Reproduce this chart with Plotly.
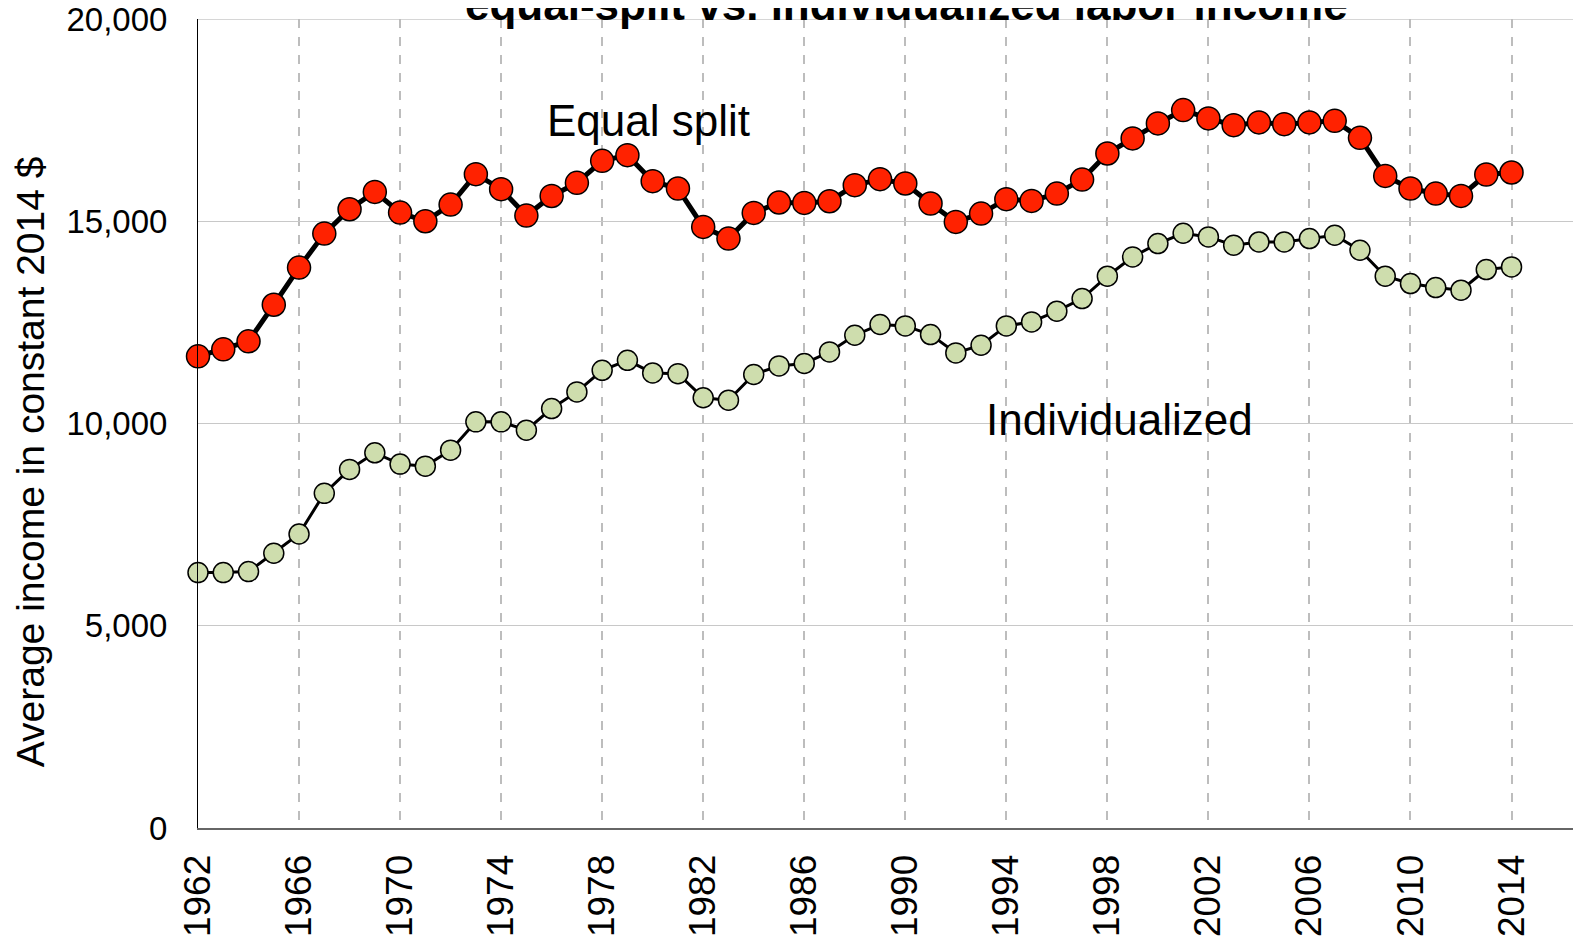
import plotly.graph_objects as go

years = list(range(1962, 2015))

equal_split = [
    11660, 11834, 12031, 12936, 13854, 14695, 15297, 15725, 15215, 15000,
    15413, 16163, 15792, 15140, 15625, 15949, 16493, 16634, 15990, 15809,
    14859, 14572, 15205, 15463, 15453, 15495, 15891, 16040, 15933, 15438,
    14983, 15190, 15545, 15503, 15685, 16030, 16675, 17047, 17418, 17748,
    17542, 17376, 17443, 17401, 17443, 17483, 17062, 16121, 15809, 15685,
    15627, 16155, 16205,
]

individualized = [
    6314, 6314, 6339, 6792, 7268, 8273, 8865, 9275, 8996, 8946,
    9341, 10041, 10041, 9835, 10370, 10781, 11315, 11562, 11250, 11233,
    10636, 10576, 11211, 11424, 11483, 11770, 12182, 12447, 12413, 12199,
    11745, 11935, 12413, 12512, 12776, 13089, 13641, 14119, 14449, 14703,
    14613, 14407, 14489, 14489, 14572, 14654, 14283, 13641, 13460, 13361,
    13295, 13806, 13872,
]

tick_years = list(range(1962, 2015, 4))
y_ticks = [0, 5000, 10000, 15000, 20000]
title_text = "equal-split vs. individualized labor income"
y_title = "Average income in constant 2014 $"
label_equal = "Equal split"
label_indiv = "Individualized"

FONT = "Liberation Sans, Arial, sans-serif"
GRID_H = "#C8C8C8"

fig = go.Figure()
fig.add_trace(go.Scatter(
    x=years, y=individualized, mode="lines+markers",
    line=dict(color="black", width=3),
    marker=dict(size=20, color="#CEDDAD", line=dict(color="black", width=1.5)),
    cliponaxis=False, showlegend=False,
))
fig.add_trace(go.Scatter(
    x=years, y=equal_split, mode="lines+markers",
    line=dict(color="black", width=5),
    marker=dict(size=23, color="#FF2200", line=dict(color="black", width=1.5)),
    cliponaxis=False, showlegend=False,
))

# top gridline (plotly skips gridlines lying on the plot edge)
fig.add_shape(type="line", xref="paper", yref="y", x0=0, x1=1,
              y0=y_ticks[-1], y1=y_ticks[-1], layer="below",
              line=dict(color=GRID_H, width=1.5))

fig.update_layout(
    width=1573, height=936,
    margin=dict(l=190, r=0, t=11, b=116),
    plot_bgcolor="white", paper_bgcolor="white",
    font=dict(family=FONT, color="black"),
    xaxis=dict(
        range=[1962, 2016.75], tickvals=tick_years, ticktext=[str(y) for y in tick_years],
        tickangle=-90, tickfont=dict(size=37, family=FONT, color="black"),
        showgrid=True, gridcolor="#BDBDBD", griddash="dash", gridwidth=1.5,
        showline=True, linecolor="#666666", linewidth=2,
        ticks="", ticklabelstandoff=10, zeroline=False, automargin=False,
    ),
    yaxis=dict(
        range=[0, 20000], tickvals=y_ticks,
        tickformat=",", tickfont=dict(size=33, family=FONT, color="black"),
        showgrid=True, gridcolor=GRID_H, gridwidth=1.2,
        showline=True, linecolor="black", linewidth=1,
        ticks="", ticklabelstandoff=23, zeroline=False, automargin=False,
        ticklabeloverflow="allow",
    ),
    annotations=[
        dict(text="<b>" + title_text + "</b>", xref="paper", yref="paper",
             x=0.512, y=0.985, xanchor="center", yanchor="bottom", showarrow=False,
             font=dict(size=44, family=FONT, color="black")),
        dict(text=y_title, xref="paper", yref="paper", x=-0.1213, y=0.4524,
             xanchor="center", yanchor="middle", textangle=-90, showarrow=False,
             font=dict(size=39, family=FONT, color="black")),
        dict(text=label_equal, xref="x", yref="y", x=1975.75, y=17500,
             xanchor="left", yanchor="middle", showarrow=False,
             font=dict(size=44, family=FONT, color="black")),
        dict(text=label_indiv, xref="x", yref="y", x=1993.1, y=10110,
             xanchor="left", yanchor="middle", showarrow=False,
             font=dict(size=44, family=FONT, color="black")),
    ],
)

fig.write_html("out.html")
